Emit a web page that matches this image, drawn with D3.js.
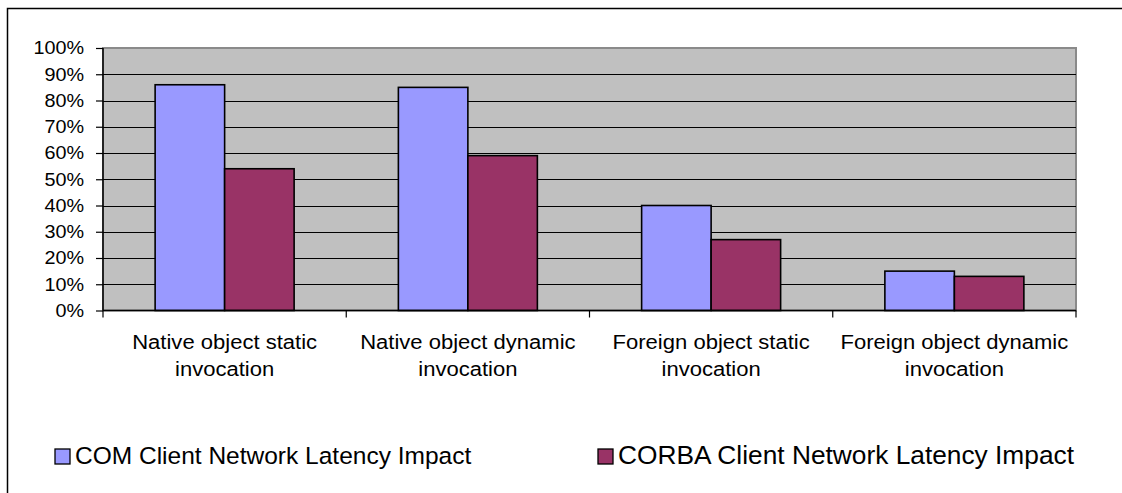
<!DOCTYPE html>
<html>
<head>
<meta charset="utf-8">
<script src="https://cdn.jsdelivr.net/npm/d3@7"></script>
<style>
  html, body { margin: 0; padding: 0; background: #fff; overflow: hidden; }
  svg { display: block; font-family: Arial, "Liberation Sans", sans-serif; }
</style>
</head>
<body>
<svg id="chart" width="1122" height="493"></svg>
<script>
// Chart data
const categories = [
  ["Native object static", "invocation"],
  ["Native object dynamic", "invocation"],
  ["Foreign object static", "invocation"],
  ["Foreign object dynamic", "invocation"]
];
const seriesNames = ["COM Client Network Latency Impact", "CORBA Client Network Latency Impact"];
const comValues = [0.86, 0.85, 0.40, 0.15];
const corbaValues = [0.54, 0.59, 0.27, 0.13];
const yTicks = [0, 0.1, 0.2, 0.3, 0.4, 0.5, 0.6, 0.7, 0.8, 0.9, 1.0];
const seriesColors = ["#9999FF", "#993366"];

const svg = d3.select("#chart");

// Outer chart-area frame: top and left edges (the rest runs off the page)
svg.append("path")
  .attr("d", "M7.5,493V8.5H1122")
  .attr("fill", "none").attr("stroke", "#000").attr("stroke-width", 1.5);

const plot = { left: 103, right: 1076, top: 48, bottom: 310.5 };

const x0 = d3.scaleBand()
  .domain(d3.range(categories.length))
  .range([plot.left, plot.right])
  .paddingInner(0).paddingOuter(0);

// 150% gap width: each bar = band / 3.5
const barW = x0.bandwidth() / 3.5;
const x1 = d3.scaleBand()
  .domain([0, 1])
  .range([0, barW * 2]);

const y = d3.scaleLinear().domain([0, 1]).range([plot.bottom, plot.top]);

// Plot area background
svg.append("rect")
  .attr("x", plot.left).attr("y", plot.top)
  .attr("width", plot.right - plot.left).attr("height", plot.bottom - plot.top)
  .attr("fill", "#C0C0C0").attr("stroke", "#8a8a8a").attr("stroke-width", 2);

// Horizontal gridlines
svg.append("g")
  .selectAll("line")
  .data(yTicks.filter(t => t > 0 && t < 1))
  .join("line")
  .attr("x1", plot.left).attr("x2", plot.right)
  .attr("y1", d => Math.round(y(d)) + 0.5).attr("y2", d => Math.round(y(d)) + 0.5)
  .attr("stroke", "#000").attr("stroke-width", 1.2);

// Bars
const series = [comValues, corbaValues];
const groups = svg.append("g")
  .selectAll("g")
  .data(categories.map((c, i) => i))
  .join("g")
  .attr("transform", i => `translate(${x0(i) + (x0.bandwidth() - barW * 2) / 2},0)`);

groups.selectAll("rect")
  .data(i => series.map((s, k) => ({ k, v: s[i] })))
  .join("rect")
  .attr("x", d => x1(d.k))
  .attr("y", d => y(d.v))
  .attr("width", x1.bandwidth())
  .attr("height", d => y(0) - y(d.v))
  .attr("fill", d => seriesColors[d.k])
  .attr("stroke", "#000").attr("stroke-width", 1.6);

// Y axis
const yAxis = svg.append("g")
  .attr("transform", `translate(${plot.left},0)`)
  .call(d3.axisLeft(y).tickValues(yTicks).tickFormat(d3.format(".0%")).tickSize(7).tickPadding(12));
yAxis.select(".domain").attr("stroke", "#000").attr("stroke-width", 1.5).attr("d", `M0,${plot.top}V${plot.bottom}`);
yAxis.selectAll(".tick line").attr("stroke", "#000").attr("stroke-width", 1.2);
yAxis.selectAll(".tick text")
  .attr("font-size", 18).attr("fill", "#000")
  .attr("font-family", "Arial, 'Liberation Sans', sans-serif")
  .attr("transform", "scale(1.1,1)")
  .attr("x", -19 / 1.1);

// X axis line with category boundary ticks
const xAxis = svg.append("g");
xAxis.append("line")
  .attr("x1", plot.left).attr("x2", plot.right)
  .attr("y1", plot.bottom).attr("y2", plot.bottom)
  .attr("stroke", "#000").attr("stroke-width", 1.5);
xAxis.selectAll("line.tk")
  .data(d3.range(categories.length + 1))
  .join("line").attr("class", "tk")
  .attr("x1", i => i < categories.length ? x0(i) : plot.right)
  .attr("x2", i => i < categories.length ? x0(i) : plot.right)
  .attr("y1", plot.bottom).attr("y2", plot.bottom + 7)
  .attr("stroke", "#000").attr("stroke-width", 1.2);

// Category labels (two lines each)
const catLabels = svg.append("g")
  .selectAll("text")
  .data(categories.map((c, i) => ({ c, i })))
  .join("text")
  .attr("text-anchor", "middle")
  .attr("font-size", 19.5)
  .attr("fill", "#000")
  .attr("transform", d => `translate(${x0(d.i) + x0.bandwidth() / 2},0) scale(1.13,1)`);
catLabels.selectAll("tspan")
  .data(d => d.c)
  .join("tspan")
  .attr("x", 0)
  .attr("y", (t, j) => 349 + j * 27)
  .text(t => t);

// Legend
const legendItems = [
  { name: seriesNames[0], color: seriesColors[0], x: 55, size: 24.5 },
  { name: seriesNames[1], color: seriesColors[1], x: 598, size: 26.3 }
];
const legend = svg.append("g")
  .selectAll("g")
  .data(legendItems)
  .join("g")
  .attr("transform", d => `translate(${d.x},0)`);
legend.append("rect")
  .attr("x", 0).attr("y", 449)
  .attr("width", 15).attr("height", 15)
  .attr("fill", d => d.color)
  .attr("stroke", "#000").attr("stroke-width", 1.3);
legend.append("text")
  .attr("x", 20).attr("y", 464)
  .attr("font-size", d => d.size)
  .attr("fill", "#000")
  .text(d => d.name);
</script>
</body>
</html>
